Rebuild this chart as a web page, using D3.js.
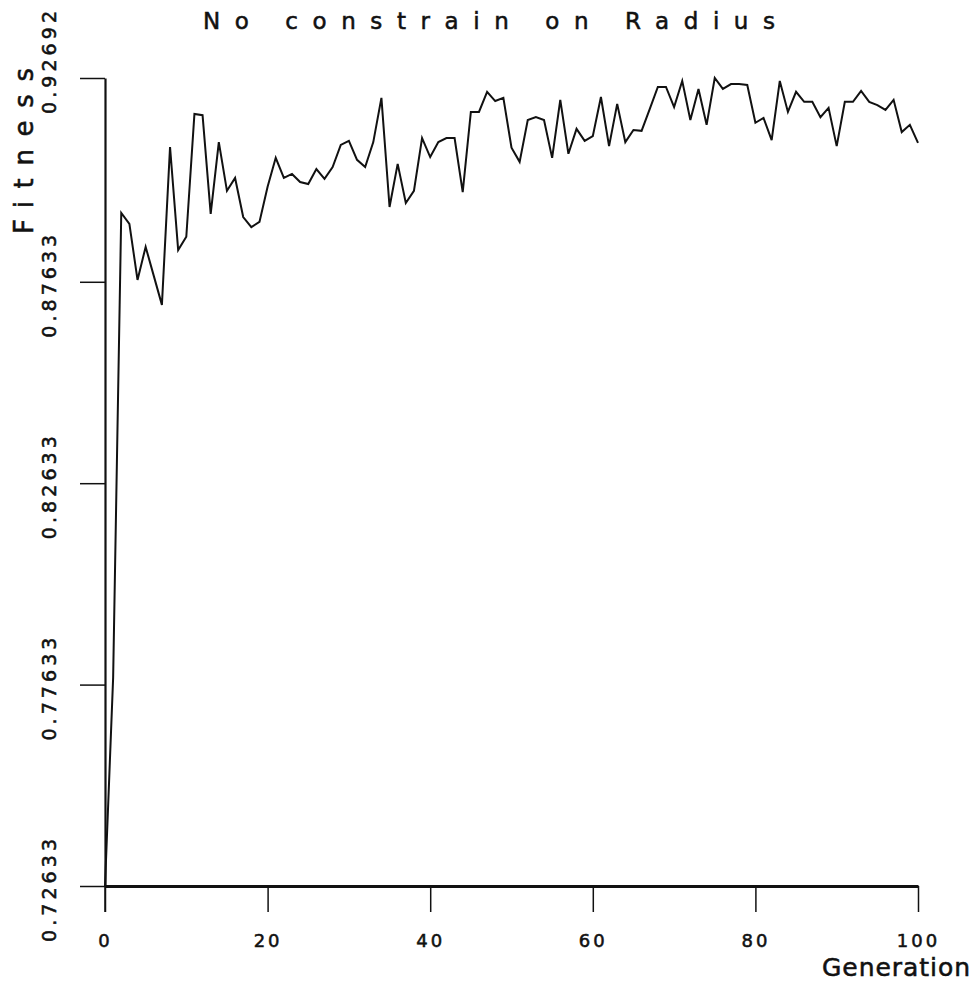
<!DOCTYPE html>
<html>
<head>
<meta charset="utf-8">
<script src="https://cdn.jsdelivr.net/npm/d3@7"></script>
<style>
  html, body { margin: 0; padding: 0; background: #fff; }
  svg { display: block; }
  text { font-family: "DejaVu Sans", "Liberation Sans", sans-serif; fill: #111; stroke: #111; stroke-width: 0.55px; }
</style>
</head>
<body>
<svg id="chart" width="979" height="983"></svg>
<script>
// Best fitness per generation (GA run without a radius constraint)
const generations = d3.range(0, 101);
const fitness = [
  0.72633, 0.7780, 0.8934, 0.8907, 0.8768, 0.8850, 0.8778, 0.8706, 0.9098, 0.8842,
  0.8875, 0.9180, 0.9177, 0.8932, 0.9110, 0.8989, 0.9021, 0.8924, 0.8899, 0.8912,
  0.8999, 0.9071, 0.9021, 0.9031, 0.9011, 0.9006, 0.9043, 0.9019, 0.9048, 0.9103,
  0.9113, 0.9066, 0.9048, 0.9110, 0.9220, 0.8949, 0.9056, 0.8959, 0.8989, 0.9120,
  0.9073, 0.9110, 0.9120, 0.9120, 0.8986, 0.9185, 0.9185, 0.9235, 0.9212, 0.9220,
  0.9096, 0.9061, 0.9165, 0.9172, 0.9165, 0.9071, 0.9215, 0.9081, 0.9143, 0.9113,
  0.9125, 0.9222, 0.9100, 0.9205, 0.9110, 0.9140, 0.9138, 0.9192, 0.9247, 0.9247,
  0.9197, 0.9262, 0.9165, 0.9242, 0.9153, 0.92692, 0.9242, 0.9254, 0.9254, 0.9252,
  0.9158, 0.9170, 0.9115, 0.9262, 0.9185, 0.9235, 0.9210, 0.9210, 0.9172, 0.9195,
  0.9100, 0.9210, 0.9210, 0.9237, 0.9210, 0.9202, 0.9190, 0.9215, 0.9135, 0.9153,
  0.9108
];
const xTicks = [0, 20, 40, 60, 80, 100];
const yTicks = [0.72633, 0.77633, 0.82633, 0.87633, 0.92692];

const titleText = "No constrain on Radius";
const xLabel = "Generation";
const yLabel = "Fitness";

const svg = d3.select("#chart");

const x = d3.scaleLinear().domain([0, 100]).range([105, 918]);
const y = d3.scaleLinear().domain([d3.min(yTicks), d3.max(yTicks)]).range([886, 78]);

// Title
svg.append("text")
  .attr("x", 489).attr("y", 29)
  .attr("text-anchor", "middle")
  .attr("font-size", 23)
  .attr("textLength", 572).attr("lengthAdjust", "spacing")
  .text(titleText);

// X axis
const xAxis = svg.append("g")
  .attr("transform", `translate(0,${y.range()[0]})`)
  .call(d3.axisBottom(x).tickValues(xTicks).tickSize(26).tickSizeOuter(0).tickFormat(d3.format("d")));
xAxis.select(".domain").attr("stroke", "#111").attr("stroke-width", 3);
xAxis.selectAll(".tick line").attr("stroke", "#111").attr("stroke-width", 1.5);
xAxis.selectAll(".tick text")
  .attr("y", 61).attr("dy", null)
  .attr("font-size", 18)
  .attr("fill", "#111")
  .style("letter-spacing", "3px")
  .attr("font-family", null);

// Y axis
const yAxis = svg.append("g")
  .attr("transform", `translate(${x.range()[0]},0)`)
  .call(d3.axisLeft(y).tickValues(yTicks).tickSize(25).tickSizeOuter(0).tickFormat(d3.format(".5f")));
yAxis.select(".domain").attr("stroke", "#111").attr("stroke-width", 2.2);
yAxis.selectAll(".tick line").attr("stroke", "#111").attr("stroke-width", 1.5);
const yTop = d3.max(yTicks);
yAxis.selectAll(".tick text")
  .attr("x", null).attr("dy", null)
  .attr("text-anchor", "middle")
  .attr("font-size", 19)
  .attr("fill", "#111")
  .attr("font-family", null)
  .attr("textLength", 103).attr("lengthAdjust", "spacing")
  .attr("transform", d => `translate(-49,${d === yTop ? -16 : 4}) rotate(-90)`);

// Axis stub below the origin
svg.append("line")
  .attr("x1", x(0)).attr("x2", x(0))
  .attr("y1", y.range()[0]).attr("y2", y.range()[0] + 26)
  .attr("stroke", "#111").attr("stroke-width", 1.5);

// Axis titles
svg.append("text")
  .attr("x", 822).attr("y", 976)
  .attr("font-size", 25)
  .attr("textLength", 148).attr("lengthAdjust", "spacing")
  .text(xLabel);

svg.append("text")
  .attr("transform", "translate(33,151) rotate(-90)")
  .attr("text-anchor", "middle")
  .attr("font-size", 26)
  .attr("textLength", 166).attr("lengthAdjust", "spacing")
  .text(yLabel);

// Fitness curve
const line = d3.line()
  .x((d, i) => x(generations[i]))
  .y(d => y(d));

svg.append("path")
  .datum(fitness)
  .attr("fill", "none")
  .attr("stroke", "#111")
  .attr("stroke-width", 2)
  .attr("stroke-linejoin", "miter")
  .attr("d", line);
</script>
</body>
</html>
